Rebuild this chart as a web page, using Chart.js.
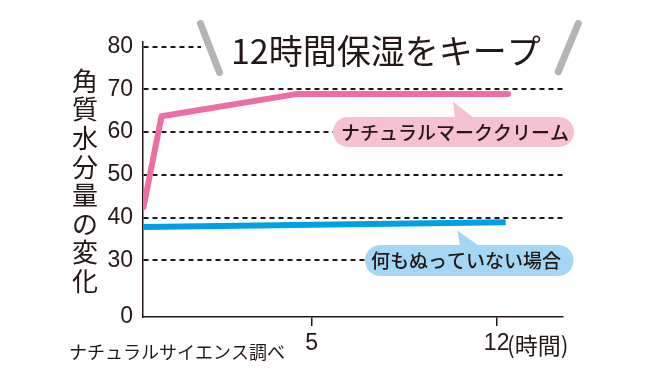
<!DOCTYPE html>
<html><head><meta charset="utf-8">
<script src="https://cdn.jsdelivr.net/npm/chart.js@4.4.1/dist/chart.umd.min.js"></script>
<style>html,body{margin:0;padding:0;background:#fff;}canvas{display:block;}</style>
</head><body>
<canvas id="c" width="660" height="379"></canvas>
<script>
const titleText = '12時間保湿をキープ';
const yAxisTitle = '角質水分量の変化';
const sourceText = 'ナチュラルサイエンス調べ';
const seriesNames = ['ナチュラルマーククリーム', '何もぬっていない場合'];
const creamHours = [-1.36, -0.68, 4.41, 12.43];
const creamValues = [42.4, 63.7, 68.9, 68.9];
const noneHours = [-1.38, 12.34];
const noneValues = [37.8, 38.9];
const yTickValues = [30, 40, 50, 60, 70, 80];
const xTickValues = [5, 12];
const xUnit = '(時間)';
const Y_ZERO = 16.7; // broken axis: position where "0" sits

const INK = '#231815';
const NUM_FONT = '"Liberation Sans Narrow", "Liberation Sans", Arial, sans-serif';
const JP_FONT = '"Noto Sans CJK JP", "Noto Sans", sans-serif';

const toPts = (xs, ys) => xs.map((x, i) => ({x, y: ys[i]}));

const decor = {
  id: 'decor',
  afterDatasetsDraw(chart) {
    const ctx = chart.ctx;
    ctx.save();
    // white band behind the title (hides the top gridline there)
    ctx.fillStyle = '#ffffff';
    ctx.fillRect(201, 36, 380, 22);
    // gray slashes
    ctx.strokeStyle = '#b4b4b4';
    ctx.lineWidth = 7;
    ctx.lineCap = 'round';
    ctx.beginPath(); ctx.moveTo(200.5, 23.5); ctx.lineTo(219.5, 72.5); ctx.stroke();
    ctx.beginPath(); ctx.moveTo(578.3, 23.5); ctx.lineTo(558.3, 71.7); ctx.stroke();
    // title
    ctx.fillStyle = INK;
    ctx.font = '34px ' + JP_FONT;
    ctx.textAlign = 'left';
    ctx.textBaseline = 'middle';
    ctx.fillText(titleText, 231, 51);
    // y axis title, vertical
    ctx.font = '26px ' + JP_FONT;
    ctx.textAlign = 'center';
    [...yAxisTitle].forEach((ch, i) => ctx.fillText(ch, 85, 81 + i * 28.6));
    // source
    ctx.font = '18px ' + JP_FONT;
    ctx.textAlign = 'left';
    ctx.fillText(sourceText, 69, 352);
    // x unit
    ctx.font = '23px ' + JP_FONT;
    ctx.fillText(xUnit, 507, 345);

    // callouts
    function pill(x0, x1, y0, y1, color, tri) {
      const r = (y1 - y0) / 2;
      ctx.fillStyle = color;
      ctx.beginPath();
      ctx.moveTo(x0 + r, y0);
      ctx.lineTo(x1 - r, y0);
      ctx.arc(x1 - r, y0 + r, r, -Math.PI / 2, Math.PI / 2);
      ctx.lineTo(x0 + r, y1);
      ctx.arc(x0 + r, y0 + r, r, Math.PI / 2, Math.PI * 1.5);
      ctx.closePath();
      ctx.fill();
      ctx.beginPath();
      ctx.moveTo(tri[0][0], tri[0][1]);
      ctx.lineTo(tri[1][0], tri[1][1]);
      ctx.lineTo(tri[2][0], tri[2][1]);
      ctx.closePath();
      ctx.fill();
    }
    pill(333, 574, 117, 147, '#f6c1d1', [[453, 101.5], [455, 118], [474, 118]]);
    pill(365, 573.5, 245, 276, '#a3d7f3', [[457.5, 230.5], [460, 246], [479, 246]]);
    ctx.fillStyle = INK;
    ctx.font = '500 19px ' + JP_FONT;
    ctx.textAlign = 'left';
    ctx.fillText(seriesNames[0], 341, 133);
    ctx.fillText(seriesNames[1], 371, 261);
    ctx.restore();
  }
};

new Chart(document.getElementById('c'), {
  type: 'line',
  data: {
    datasets: [
      {label: seriesNames[1], data: toPts(noneHours, noneValues), borderColor: '#00a0e9', borderWidth: 6, borderCapStyle: 'butt', pointRadius: 0, tension: 0},
      {label: seriesNames[0], data: toPts(creamHours, creamValues), borderColor: '#ed6da7', borderWidth: 6, borderCapStyle: 'round', borderJoinStyle: 'round', pointRadius: 0, tension: 0}
    ]
  },
  options: {
    animation: false,
    responsive: false,
    devicePixelRatio: 1,
    layout: {padding: {top: 42, right: 97, left: 0, bottom: 0}},
    plugins: {legend: {display: false}, tooltip: {enabled: false}},
    scales: {
      x: {
        type: 'linear', min: -1.38, max: 14.51,
        afterBuildTicks: s => { s.ticks = xTickValues.map(v => ({value: v})); },
        afterFit: s => { s.height = 62; },
        grid: {drawOnChartArea: false, drawTicks: true, tickLength: 9, color: INK, lineWidth: 1.5},
        border: {display: true, color: INK, width: 1.5},
        ticks: {font: {family: NUM_FONT, size: 23}, color: INK, padding: 4, maxRotation: 0, autoSkip: false}
      },
      y: {
        min: Y_ZERO, max: 81.1,
        afterBuildTicks: s => { s.ticks = [Y_ZERO, ...yTickValues].map(v => ({value: v})); },
        afterFit: s => { s.width = 143; },
        grid: {drawTicks: false, lineWidth: 2, color: c => (c.tick && c.tick.value === Y_ZERO) ? 'rgba(0,0,0,0)' : INK},
        border: {display: true, color: INK, width: 1.5, dash: [5, 4]},
        ticks: {callback: v => v === Y_ZERO ? '0' : String(v), padding: 10, font: {family: NUM_FONT, size: 23}, color: INK, autoSkip: false}
      }
    }
  },
  plugins: [decor]
});
</script>
</body></html>
